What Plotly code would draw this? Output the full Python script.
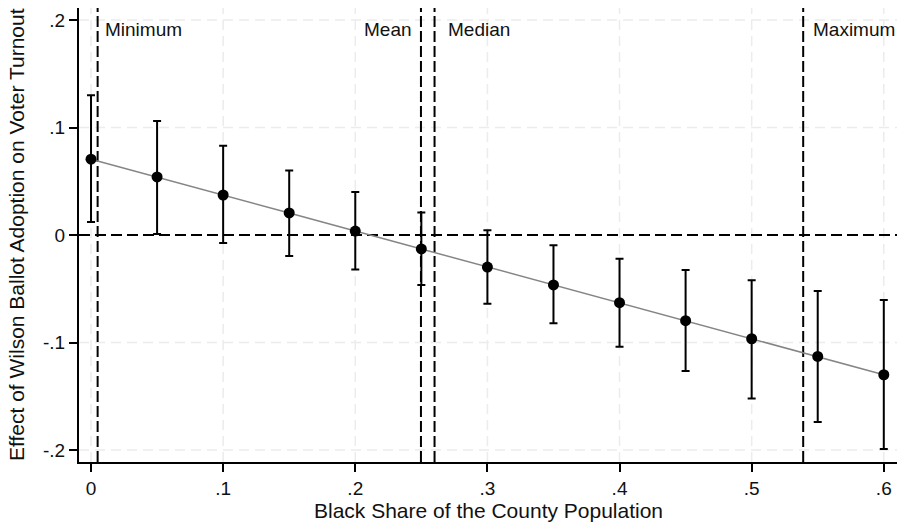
import plotly.graph_objects as go

x_vals = [0, 0.05, 0.10, 0.15, 0.20, 0.25, 0.30, 0.35, 0.40, 0.45, 0.50, 0.55, 0.60]
effect = [0.0705, 0.0540, 0.0372, 0.0205, 0.0037, -0.0130, -0.0298, -0.0464, -0.0630, -0.0797, -0.0965, -0.1130, -0.1300]
ci_upper = [0.130, 0.106, 0.083, 0.060, 0.040, 0.021, 0.0045, -0.0095, -0.022, -0.0326, -0.042, -0.052, -0.0605]
ci_lower = [0.012, 0.001, -0.0075, -0.0195, -0.032, -0.0465, -0.064, -0.082, -0.104, -0.1265, -0.152, -0.174, -0.199]

ref_names = ["Minimum", "Mean", "Median", "Maximum"]
ref_x = [0.005, 0.2497, 0.2600, 0.539]
ref_side = ["right", "left", "right", "right"]

x_ticks = [0, 0.1, 0.2, 0.3, 0.4, 0.5, 0.6]
x_ticktext = ["0", ".1", ".2", ".3", ".4", ".5", ".6"]
y_ticks = [-0.2, -0.1, 0, 0.1, 0.2]
y_ticktext = ["-.2", "-.1", "0", ".1", ".2"]

x_title = "Black Share of the County Population"
y_title = "Effect of Wilson Ballot Adoption on Voter Turnout"

FONT = "Liberation Sans, Arial, Helvetica, sans-serif"
TXT = "#111111"
GRID = "#ececec"

fig = go.Figure()
fig.add_trace(go.Scatter(x=x_vals, y=effect, mode="lines",
                         line=dict(color="#858585", width=1.5),
                         hoverinfo="skip", showlegend=False))
fig.add_trace(go.Scatter(
    x=x_vals, y=effect, mode="markers",
    marker=dict(color="black", size=11),
    error_y=dict(type="data", symmetric=False,
                 array=[u - e for u, e in zip(ci_upper, effect)],
                 arrayminus=[e - l for e, l in zip(effect, ci_lower)],
                 color="black", thickness=2, width=4),
    showlegend=False))

# gridlines as shapes (drawn first, so they sit under everything)
for xv in x_ticks:
    fig.add_shape(type="line", xref="x", yref="paper", x0=xv, x1=xv, y0=0, y1=1,
                  line=dict(color=GRID, width=1.5, dash="10px,6px"), layer="below")
for yv in y_ticks:
    if yv != 0:
        fig.add_shape(type="line", xref="paper", yref="y", x0=0, x1=1, y0=yv, y1=yv,
                      line=dict(color=GRID, width=1.5, dash="10px,6px"), layer="below")

# reference lines
fig.add_shape(type="line", xref="paper", yref="y", x0=0, x1=1, y0=0, y1=0,
              line=dict(color="black", width=2, dash="11px,5px"), layer="below")

shifts = {"Minimum": 5, "Mean": -7, "Median": 11, "Maximum": 8}
for name, xv, side in zip(ref_names, ref_x, ref_side):
    fig.add_shape(type="line", xref="x", yref="paper", x0=xv, x1=xv, y0=0, y1=1,
                  line=dict(color="black", width=2, dash="11px,4px"), layer="below")
    fig.add_annotation(x=xv, y=0.1907, xref="x", yref="y", text=name, showarrow=False,
                       xanchor="left" if side == "right" else "right",
                       xshift=shifts[name],
                       font=dict(family=FONT, size=19, color=TXT))

fig.add_annotation(x=0.5, y=0, xref="paper", yref="paper", text=x_title, showarrow=False,
                   yanchor="middle", yshift=-48, font=dict(family=FONT, size=21, color=TXT))
fig.add_annotation(x=0, y=0.5, xref="paper", yref="paper", text=y_title, showarrow=False,
                   textangle=-90, xanchor="center", xshift=-63,
                   font=dict(family=FONT, size=21, color=TXT))

axis_common = dict(showline=True, linecolor="black", linewidth=2,
                   ticks="outside", ticklen=8, tickwidth=2, tickcolor="black",
                   zeroline=False, automargin=False, showgrid=False,
                   tickfont=dict(family=FONT, size=19, color=TXT))

fig.update_xaxes(range=[-0.0091, 0.610], tickvals=x_ticks, ticktext=x_ticktext, **axis_common)
fig.update_yaxes(range=[-0.21116, 0.21116], tickvals=y_ticks, ticktext=y_ticktext, **axis_common)

fig.update_layout(width=903, height=525, plot_bgcolor="white", paper_bgcolor="white",
                  margin=dict(l=79, r=6, t=8, b=63), showlegend=False)

fig.write_html("out.html", config={"displayModeBar": False},
               post_script="document.body.style.margin='0px';")
